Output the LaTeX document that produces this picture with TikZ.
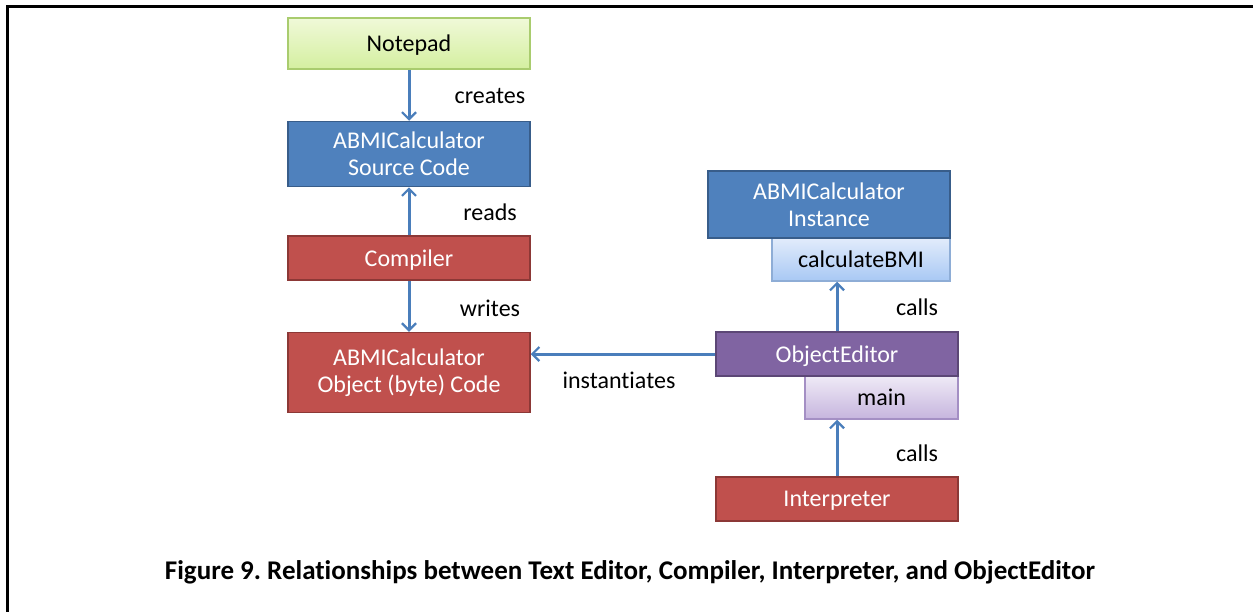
\documentclass[tikz,border=0pt]{standalone}
\usepackage{fontspec}
\setmainfont{Carlito}[Ligatures={NoCommon}]
\usetikzlibrary{arrows.meta}
\definecolor{blueF}{HTML}{4F81BD}
\definecolor{blueD}{HTML}{385D8A}
\definecolor{redF}{HTML}{C0504D}
\definecolor{redD}{HTML}{8C3836}
\definecolor{purpF}{HTML}{8064A2}
\definecolor{purpD}{HTML}{5C4776}
\definecolor{arrowC}{HTML}{4A7EBB}
\definecolor{greenT}{HTML}{F0F9D8}
\definecolor{greenB}{HTML}{D4EFA0}
\definecolor{greenD}{HTML}{A9CC6E}
\definecolor{lbT}{HTML}{E2ECFB}
\definecolor{lbB}{HTML}{A8C8F4}
\definecolor{lbD}{HTML}{8EADD6}
\definecolor{lpT}{HTML}{EFEAF6}
\definecolor{lpB}{HTML}{C6B5DE}
\definecolor{lpD}{HTML}{A48FC4}
\frenchspacing
\begin{document}
\begin{tikzpicture}[x=1pt,y=-1pt,
  box/.style={draw, line width=1.5pt, minimum width=242pt, inner sep=0pt, align=center, font=\fontsize{24}{26.5}\selectfont},
  one/.style={text depth=0.05em},
  bluebox/.style={box, fill=blueF, draw=blueD, text=white},
  redbox/.style={box, fill=redF, draw=redD, text=white},
  purpbox/.style={box, fill=purpF, draw=purpD, text=white},
  greenbox/.style={box, top color=greenT, bottom color=greenB, draw=greenD, text=black},
  lbbox/.style={box, top color=lbT, bottom color=lbB, draw=lbD, text=black},
  lpbox/.style={box, top color=lpT, bottom color=lpB, draw=lpD, text=black},
  conn/.style={draw=arrowC, line width=3pt, -{Straight Barb[length=7pt,width=14pt,line width=2.2pt]}},
  lbl/.style={font=\fontsize{24}{26}\selectfont, text=black, inner sep=0pt}
]
\useasboundingbox (0,0) rectangle (1253,611);
\fill[white] (0,0) rectangle (1253,611);
\draw[line width=3pt, line cap=rect] (1253,6) -- (7,6) -- (7,611);

\node[greenbox, one, minimum height=51pt] (notepad) at (409,43.5) {Notepad};
\node[bluebox, minimum height=65pt] (src) at (409,154) {ABMICalculator\\Source Code};
\node[redbox, one, minimum height=44pt] (comp) at (409,258) {Compiler};
\node[redbox, minimum height=80pt] (obj) at (409,372.5) {ABMICalculator\\Object (byte) Code};

\node[lbbox, one, minimum width=178pt, minimum height=43pt] (calc) at (861,259.5) {calculateBMI};
\node[bluebox, minimum height=67pt] (inst) at (829,204.5) {ABMICalculator\\Instance};
\node[lpbox, one, minimum width=153pt, minimum height=43pt] (main) at (881.5,397.5) {main};
\node[purpbox, one, minimum height=44pt] (oe) at (837,354) {ObjectEditor};
\node[redbox, one, minimum height=44pt] (interp) at (837,499) {Interpreter};

\draw[conn] (notepad.south) -- (src.north);
\draw[conn] (comp.north) -- (src.south);
\draw[conn] (comp.south) -- (obj.north);
\draw[conn] (oe.west) -- (obj.east |- oe.west);
\draw[conn] (oe.north) -- (oe.north |- calc.south);
\draw[conn] (interp.north) -- (interp.north |- main.south);

\node[lbl] (lcreates) at (490,96) {creates};
\node[lbl] (lreads) at (490,212) {reads};
\node[lbl] (lwrites) at (490,308) {writes};
\node[lbl] (linst) at (619,380) {instantiates};
\node[lbl] (lcalls1) at (917,307) {calls};
\node[lbl] (lcalls2) at (917,453) {calls};

\node[font=\bfseries\fontsize{27}{30}\selectfont, inner sep=0pt] (cap) at (630,572) {Figure 9. Relationships between Text Editor, Compiler, Interpreter, and ObjectEditor};
\end{tikzpicture}
\end{document}
